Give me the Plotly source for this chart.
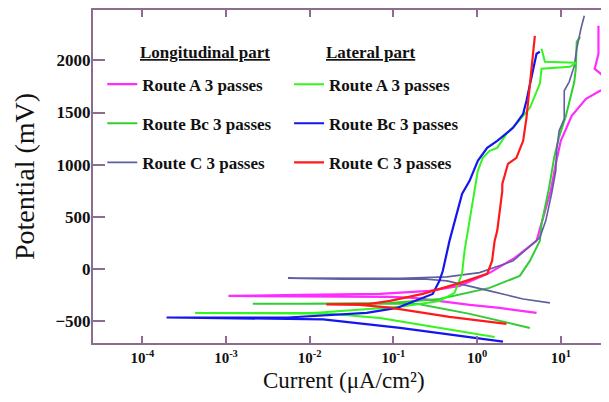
import plotly.graph_objects as go

# ---------------- data (current in uA/cm2, potential in mV) ----------------
# Longitudinal part
long_a_i = [5.13, 1.86, 0.818, 0.355, 0.178, 0.0912, 0.00107, 0.00759, 0.0692, 0.269, 0.617, 1.41, 2.82,
            5.13, 5.89, 7.59, 8.71, 10.0, 13.5, 20.0, 29.5, 44.7, 35.5, 25.4, 28.2, 28.2, 28.2]
long_a_e = [-419, -371, -342, -304, -275, -266, -256, -247, -237, -208, -160, -35, 108,
            271, 434, 750, 1009, 1229, 1468, 1631, 1708, 1765, 1823, 1919, 2063, 2187, 2331]

long_bc_i = [4.27, 0.818, 0.191, 0.00209, 0.00759, 0.0912, 0.355, 1.41, 3.24, 4.27, 5.62, 5.89,
             7.24, 8.32, 9.55, 11.5, 13.2, 14.5, 15.1, 15.5, 17.0]
long_bc_e = [-563, -428, -332, -332, -332, -323, -285, -179, -64, 79, 271, 434,
             779, 1066, 1267, 1468, 1650, 1794, 1919, 2177, 2225]

long_c_i = [7.41, 3.55, 1.41, 0.437, 0.251, 0.0251, 0.0055, 0.0251, 0.120, 0.437, 1.07, 2.69, 5.62,
            6.61, 7.76, 8.71, 8.91, 9.55, 11.0, 11.0, 12.6, 14.5, 15.5, 17.4, 19.1]
long_c_e = [-323, -285, -208, -112, -96, -96, -86, -88, -88, -74, -33, 79, 303,
            463, 721, 942, 1133, 1325, 1440, 1708, 1794, 1947, 2110, 2302, 2427]

# Lateral part
lat_a_i = [1.62, 0.355, 0.0692, 0.0174, 0.000427, 0.011, 0.120, 0.355, 0.537, 0.661, 0.708, 0.776, 0.891,
           1.02, 1.17, 1.41, 1.74, 2.24, 2.95, 4.27, 5.62, 5.89, 12.9, 15.1, 6.46, 5.89]
lat_a_e = [-649, -563, -467, -428, -419, -419, -361, -304, -227, -45, 175, 367, 654,
           942, 1066, 1133, 1162, 1296, 1392, 1545, 1775, 1919, 1938, 1976, 1986, 2110]

lat_bc_i = [2.04, 0.468, 0.120, 0.0145, 0.00437, 0.000195, 0.0055, 0.0479, 0.110, 0.158, 0.295, 0.355,
            0.389, 0.468, 0.589, 0.661, 0.813, 1.02, 1.32, 1.74, 2.69, 3.55, 3.89, 4.27, 4.68, 5.13, 5.62]
lat_bc_e = [-694, -625, -563, -480, -476, -463, -463, -419, -371, -323, -237, -112,
            -18, 271, 587, 721, 846, 1037, 1162, 1229, 1354, 1488, 1612, 1775, 1928, 2063, 2082]

lat_c_i = [2.24, 0.468, 0.0912, 0.0398, 0.0158, 0.0524, 0.0912, 0.224, 0.575, 1.32, 1.51, 1.62, 1.74,
           2.0, 2.0, 2.34, 2.95, 3.55, 3.89, 4.27, 4.47, 4.68, 4.90]
lat_c_e = [-524, -457, -368, -342, -337, -332, -304, -237, -141, -45, 79, 271, 367,
           750, 817, 1009, 1066, 1229, 1449, 1775, 1928, 2120, 2235]

series_names = ["Route A 3 passes", "Route Bc 3 passes", "Route C 3 passes"]
x_tickvals = [1e-4, 1e-3, 1e-2, 1e-1, 1e0, 1e1]
x_ticktext = ["10<sup>-4</sup>", "10<sup>-3</sup>", "10<sup>-2</sup>", "10<sup>-1</sup>",
              "10<sup>0</sup>", "10<sup>1</sup>"]
y_tickvals = [-500, 0, 500, 1000, 1500, 2000]

# ---------------- figure ----------------
AXC = "#8d6c8d"
SERIF = "Liberation Serif"

fig = go.Figure()

long_sets = [(long_a_i, long_a_e, "#ff2cff", 2.2), (long_bc_i, long_bc_e, "#33cc33", 2.0),
             (long_c_i, long_c_e, "#5e5ea0", 1.6)]
lat_sets = [(lat_a_i, lat_a_e, "#33f51f", 2.0), (lat_bc_i, lat_bc_e, "#1515f0", 2.2),
            (lat_c_i, lat_c_e, "#ff1a1a", 2.2)]

for k, (xi, ye, col, w) in enumerate(long_sets):
    fig.add_trace(go.Scatter(x=xi, y=ye, mode="lines", name=series_names[k],
                             line=dict(color=col, width=w), legend="legend",
                             legendgroup="L%d" % k))
for k, (xi, ye, col, w) in enumerate(lat_sets):
    fig.add_trace(go.Scatter(x=xi, y=ye, mode="lines", name=series_names[k],
                             line=dict(color=col, width=w), legend="legend2",
                             legendgroup="T%d" % k))

legfont = dict(family=SERIF, size=17, color="#111111", weight="bold")

# the page body adds an 8px margin, so the figure is 601x394 and sits at (8, 8)
fig.update_layout(
    width=601, height=394,
    margin=dict(l=85, r=0, t=2, b=59),
    paper_bgcolor="white", plot_bgcolor="white",
    showlegend=True,
    legend=dict(x=0.018, y=0.830, xanchor="left", yanchor="top", bgcolor="rgba(0,0,0,0)",
                font=legfont, tracegroupgap=14, itemclick=False),
    legend2=dict(x=0.380, y=0.830, xanchor="left", yanchor="top", bgcolor="rgba(0,0,0,0)",
                 font=legfont, tracegroupgap=14, itemclick=False),
    xaxis=dict(type="log", range=[-4.589, 1.576], tickvals=x_tickvals, ticktext=x_ticktext,
               ticks="inside", ticklen=7, tickwidth=1.5, tickcolor=AXC,
               showline=True, linecolor=AXC, linewidth=2, mirror="ticks",
               showgrid=False, zeroline=False,
               tickfont=dict(family=SERIF, size=15, color="#111111", weight="bold")),
    yaxis=dict(range=[-707, 2482], tickvals=y_tickvals,
               ticks="inside", ticklen=12, tickwidth=1.5, tickcolor=AXC,
               showline=True, linecolor=AXC, linewidth=2, ticklabelstandoff=-3,
               showgrid=False, zeroline=False,
               tickfont=dict(family=SERIF, size=17, color="#111111", weight="bold"),
               title=dict(text="Potential (mV)",
                          font=dict(family=SERIF, size=28, color="#111111"), standoff=13)),
    annotations=[
        dict(text="Current (\u03bcA/cm\u00b2)", x=0.4855, y=-0.112, xref="paper", yref="paper",
             xanchor="center", yanchor="middle", showarrow=False,
             font=dict(family=SERIF, size=23, color="#111111")),
        dict(text="<u>Longitudinal part</u>", x=0.087, y=0.872, xref="paper", yref="paper",
             xanchor="left", yanchor="middle", showarrow=False,
             font=dict(family=SERIF, size=17, color="#111111", weight="bold")),
        dict(text="<u>Lateral part</u>", x=0.447, y=0.872, xref="paper", yref="paper",
             xanchor="left", yanchor="middle", showarrow=False,
             font=dict(family=SERIF, size=17, color="#111111", weight="bold")),
    ],
)

fig.write_html("out.html")
